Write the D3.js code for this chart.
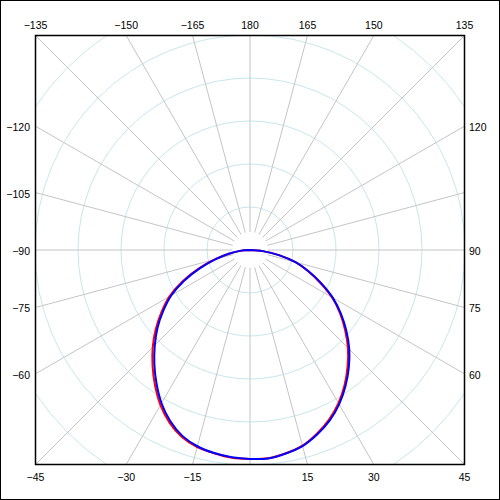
<!DOCTYPE html>
<html>
<head>
<meta charset="utf-8">
<script src="https://cdn.jsdelivr.net/npm/d3@7"></script>
<style>
  body { margin: 0; background: #fff; }
  text { font-family: "Liberation Sans", Arial, sans-serif; font-size: 10.5px; fill: #000; }
</style>
</head>
<body>
<div id="chart"></div>
<script>
// angles in degrees, 0 at bottom, 90 at right, 180 at top
let angles = [-90, -85, -80, -75, -70, -65, -60, -55, -50, -45, -40, -35, -30, -25, -20, -15, -10, -5,
              0, 5, 10, 15, 20, 25, 30, 35, 40, 45, 50, 55, 60, 65, 70, 75, 80, 85, 90];

let redValues = [0, 0.047, 0.100, 0.170, 0.256, 0.348, 0.433, 0.502, 0.572, 0.640, 0.705, 0.770, 0.833, 0.886, 0.926, 0.949, 0.960, 0.970,
                 0.972, 0.972, 0.960, 0.942, 0.909, 0.870, 0.823, 0.767, 0.706, 0.644, 0.577, 0.511, 0.440, 0.360, 0.286, 0.219, 0.137, 0.060, 0];

let blueValues = [0, 0.047, 0.100, 0.165, 0.247, 0.338, 0.423, 0.492, 0.561, 0.626, 0.692, 0.758, 0.823, 0.878, 0.920, 0.945, 0.959, 0.968,
                  0.972, 0.973, 0.961, 0.944, 0.913, 0.876, 0.829, 0.774, 0.715, 0.653, 0.585, 0.516, 0.445, 0.365, 0.290, 0.219, 0.136, 0.060, 0];

let gridAngles = d3.range(-165, 181, 15);
let labelAngles = [-165, -150, -135, -120, -105, -90, -75, -60, -45, -30, -15, 15, 30, 45, 60, 75, 90, 120, 135, 150, 165, 180];
let rings = [0.2, 0.4, 0.6, 0.8, 1.0, 1.2, 1.4];

let width = 500,
    height = 500,
    cx = 250,
    cy = 250,
    half = 214.5;

let r = d3.scaleLinear().domain([0, 1]).range([0, 215]);
let rad = d => d * Math.PI / 180;
let fmt = d3.format("d");

let svg = d3.select("#chart")
    .append("svg")
    .attr("width", width)
    .attr("height", height);

svg.append("rect")
    .attr("x", 0.5).attr("y", 0.5)
    .attr("width", width - 1).attr("height", height - 1)
    .attr("fill", "#fff")
    .attr("stroke", "#000");

svg.append("clipPath").attr("id", "plotclip")
    .append("rect")
    .attr("x", cx - half).attr("y", cy - half)
    .attr("width", half * 2).attr("height", half * 2);

let plot = svg.append("g")
    .attr("clip-path", "url(#plotclip)")
    .append("g")
    .attr("transform", "translate(" + cx + "," + cy + ")");

plot.selectAll(".ring")
    .data(rings)
    .enter().append("circle")
    .attr("class", "ring")
    .attr("r", d => r(d))
    .attr("fill", "none")
    .attr("stroke", "#c8e6ec")
    .attr("stroke-width", 1);

plot.selectAll(".spoke")
    .data(gridAngles)
    .enter().append("line")
    .attr("class", "spoke")
    .attr("x1", d => 18 * Math.sin(rad(d)))
    .attr("y1", d => 18 * Math.cos(rad(d)))
    .attr("x2", d => 400 * Math.sin(rad(d)))
    .attr("y2", d => 400 * Math.cos(rad(d)))
    .attr("stroke", "#c4c4c4")
    .attr("stroke-width", 1);

let line = d3.lineRadial()
    .angle(d => Math.PI - rad(d[0]))
    .radius(d => r(d[1]))
    .curve(d3.curveCatmullRom);

plot.append("path")
    .attr("d", line(d3.zip(angles, redValues)))
    .attr("fill", "none")
    .attr("stroke", "#ff0000")
    .attr("stroke-width", 2);

plot.append("path")
    .attr("d", line(d3.zip(angles, blueValues)))
    .attr("fill", "none")
    .attr("stroke", "#0000ff")
    .attr("stroke-width", 2);

svg.append("rect")
    .attr("x", cx - half).attr("y", cy - half)
    .attr("width", half * 2).attr("height", half * 2)
    .attr("fill", "none")
    .attr("stroke", "#000")
    .attr("stroke-width", 1.5);

// labels where each spoke meets the frame
labelAngles.forEach(a => {
    let s = Math.sin(rad(a)), c = Math.cos(rad(a));
    let t = half / Math.max(Math.abs(s), Math.abs(c));
    let x = cx + t * s, y = cy + t * c;
    let txt = svg.append("text").text(fmt(a));
    if (Math.abs(c) >= Math.abs(s) - 1e-9) {
        txt.attr("x", x).attr("text-anchor", "middle")
           .attr("y", c < 0 ? 29 : 481);
    } else if (s < 0) {
        txt.attr("x", 30).attr("text-anchor", "end").attr("y", y + 5);
    } else {
        txt.attr("x", 469).attr("text-anchor", "start").attr("y", y + 5);
    }
});
</script>
</body>
</html>
